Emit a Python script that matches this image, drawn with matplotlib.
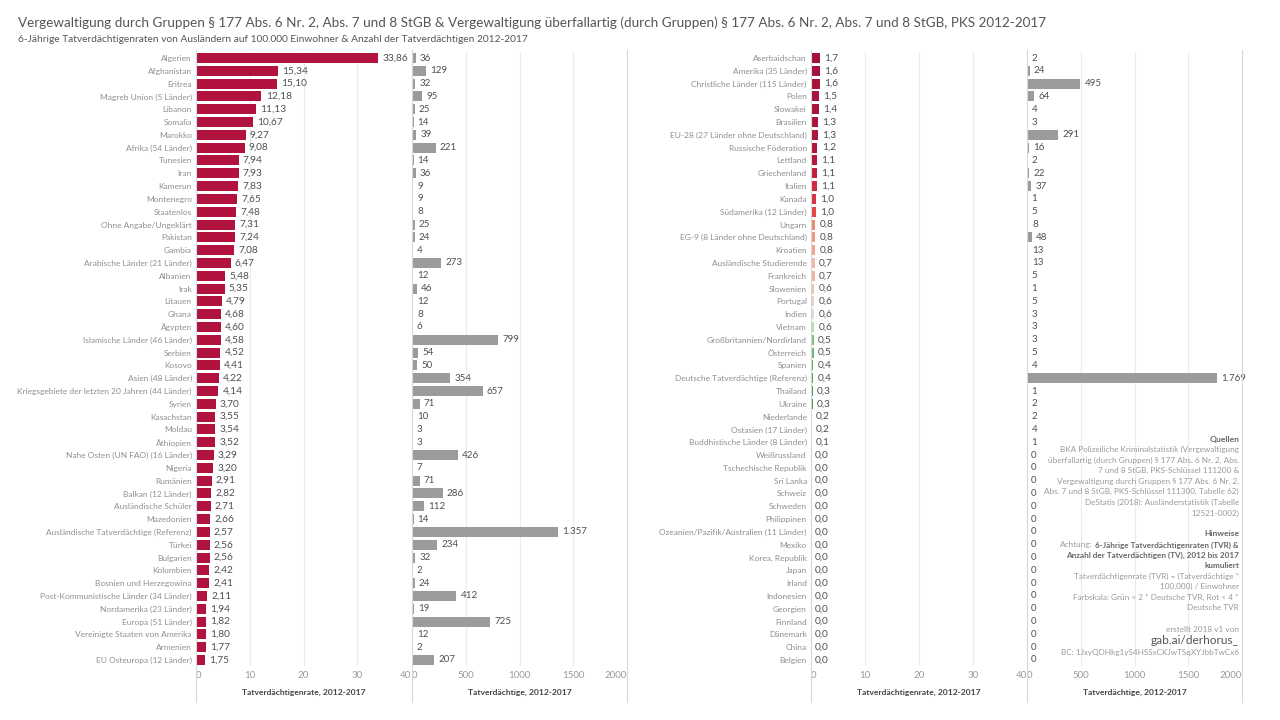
import matplotlib
matplotlib.use("Agg")
import matplotlib.pyplot as plt
from matplotlib.lines import Line2D

plt.rcParams['font.family'] = ['Lato', 'DejaVu Sans']

# left half
left_names = ['Algerien', 'Afghanistan', 'Eritrea', 'Magreb Union (5 Länder)', 'Libanon', 'Somalia',
              'Marokko', 'Afrika (54 Länder)', 'Tunesien', 'Iran', 'Kamerun', 'Montenegro', 'Staatenlos',
              'Ohne Angabe/Ungeklärt', 'Pakistan', 'Gambia', 'Arabische Länder (21 Länder)', 'Albanien',
              'Irak', 'Litauen', 'Ghana', 'Ägypten', 'Islamische Länder (46 Länder)', 'Serbien', 'Kosovo',
              'Asien (48 Länder)', 'Kriegsgebiete der letzten 20 Jahren (44 Länder)', 'Syrien',
              'Kasachstan', 'Moldau', 'Äthiopien', 'Nahe Osten (UN FAO) (16 Länder)', 'Nigeria',
              'Rumänien', 'Balkan (12 Länder)', 'Ausländische Schüler', 'Mazedonien',
              'Ausländische Tatverdächtige (Referenz)', 'Türkei', 'Bulgarien', 'Kolumbien',
              'Bosnien und Herzegowina', 'Post-Kommunistische Länder (34 Länder)', 'Nordamerika (23 Länder)',
              'Europa (51 Länder)', 'Vereinigte Staaten von Amerika', 'Armenien', 'EU Osteuropa (12 Länder)']
left_rate = [33.86, 15.34, 15.10, 12.18, 11.13, 10.67, 9.27, 9.08, 7.94, 7.93, 7.83, 7.65, 7.48,
             7.31, 7.24, 7.08, 6.47, 5.48, 5.35, 4.79, 4.68, 4.60, 4.58, 4.52, 4.41, 4.22, 4.14, 3.70,
             3.55, 3.54, 3.52, 3.29, 3.20, 2.91, 2.82, 2.71, 2.66, 2.57, 2.56, 2.56, 2.42, 2.41, 2.11,
             1.94, 1.82, 1.80, 1.77, 1.75]
left_count = [36, 129, 32, 95, 25, 14, 39, 221, 14, 36, 9, 9, 8, 25, 24, 4, 273, 12, 46, 12, 8, 6,
              799, 54, 50, 354, 657, 71, 10, 3, 3, 426, 7, 71, 286, 112, 14, 1357, 234, 32, 2, 24,
              412, 19, 725, 12, 2, 207]

# right half
right_names = ['Aserbaidschan', 'Amerika (35 Länder)', 'Christliche Länder (115 Länder)', 'Polen',
               'Slowakei', 'Brasilien', 'EU-28 (27 Länder ohne Deutschland)', 'Russische Föderation',
               'Lettland', 'Griechenland', 'Italien', 'Kanada', 'Südamerika (12 Länder)', 'Ungarn',
               'EG-9 (8 Länder ohne Deutschland)', 'Kroatien', 'Ausländische Studierende', 'Frankreich',
               'Slowenien', 'Portugal', 'Indien', 'Vietnam', 'Großbritannien/Nordirland', 'Österreich',
               'Spanien', 'Deutsche Tatverdächtige (Referenz)', 'Thailand', 'Ukraine', 'Niederlande',
               'Ostasien (17 Länder)', 'Buddhistische Länder (8 Länder)', 'Weißrussland',
               'Tschechische Republik', 'Sri Lanka', 'Schweiz', 'Schweden', 'Philippinen',
               'Ozeanien/Pazifik/Australien (11 Länder)', 'Mexiko', 'Korea, Republik', 'Japan', 'Irland',
               'Indonesien', 'Georgien', 'Finnland', 'Dänemark', 'China', 'Belgien']
right_rate = [1.7, 1.6, 1.6, 1.5, 1.4, 1.3, 1.3, 1.2, 1.1, 1.1, 1.1, 1.0, 1.0, 0.8, 0.8, 0.8, 0.7,
              0.7, 0.6, 0.6, 0.6, 0.6, 0.5, 0.5, 0.4, 0.4, 0.3, 0.3, 0.2, 0.2, 0.1] + [0.0] * 17
right_count = [2, 24, 495, 64, 4, 3, 291, 16, 2, 22, 37, 1, 5, 8, 48, 13, 13, 5, 1, 5, 3, 3, 3, 5,
               4, 1769, 1, 2, 2, 4, 1] + [0] * 17

# colour scale of the right rate bars (red -> green)
right_colors = ['#a5103a', '#a6103a', '#a8113a', '#aa123b', '#ab133c', '#ad143c', '#ad143c', '#b0163d',
                '#b5183f', '#c01f40', '#cc2a42', '#d63444', '#e04848', '#ec8a74', '#ee9880', '#efa48c',
                '#f2b8a6', '#f2b0a0', '#f2c0ac', '#ead0c8', '#dde2d0', '#b8dcb0', '#78c278', '#6cba6e',
                '#5aae5e', '#52a858', '#3c9a4a', '#3c9a4a', '#2e8c3e', '#e0e0e0', '#e0e0e0'] + ['#e0e0e0'] * 17

RED = '#b1123e'
GREY = '#9b9b9b'
LABEL = '#8f8f8f'
VALUE = '#505050'
W, H = 1280, 720


def de_num(v, dec):
    return f"{v:.{dec}f}".replace('.', ',')


def de_int(v):
    return f"{v:,}".replace(',', '.')


fig = plt.figure(figsize=(12.8, 7.2), dpi=100)
fig.patch.set_facecolor('white')


def px_axes(x0, x1, y0=51.6, y1=666.4):
    return fig.add_axes([x0 / W, 1 - y1 / H, (x1 - x0) / W, (y1 - y0) / H])


def style_axes(ax, xmax, ticks, names=None):
    ax.set_xlim(0, xmax)
    ax.set_ylim(47.5, -0.5)
    for s in ax.spines.values():
        s.set_visible(False)
    ax.set_xticks(ticks)
    ax.set_xticklabels([str(t) for t in ticks], fontsize=7, color='#9a9a9a')
    labs = ax.get_xticklabels()
    labs[0].set_ha('left')
    labs[-1].set_ha('right')
    ax.tick_params(axis='x', length=0, pad=3)
    for t in ticks[1:-1]:
        ax.axvline(t, color='#ececec', lw=0.8, zorder=0)
    ax.set_yticks(range(48))
    if names is not None:
        ax.set_yticklabels(names, fontsize=6.0, color=LABEL)
        ax.tick_params(axis='y', length=0, pad=3)
    else:
        ax.set_yticklabels([])
        ax.tick_params(axis='y', length=0)


rows = list(range(48))
panels = [
    (196, 411, 412, 627, left_names, left_rate, left_count, [RED] * 48, 2),
    (811, 1027, 1027, 1242, right_names, right_rate, right_count, right_colors, 1),
]

for rx0, rx1, cx0, cx1, names, rate, count, colors, dec in panels:
    ax_r = px_axes(rx0, rx1)
    style_axes(ax_r, 40, [0, 10, 20, 30, 40], names)
    bars = ax_r.barh(rows, rate, height=0.78, color=colors, zorder=2)
    ax_r.bar_label(bars, labels=[de_num(v, dec) for v in rate], padding=3,
                   fontsize=7.3, color=VALUE)

    ax_c = px_axes(cx0, cx1)
    style_axes(ax_c, 2000, [0, 500, 1000, 1500, 2000])
    bars = ax_c.barh(rows, count, height=0.78, color=GREY, zorder=2)
    ax_c.bar_label(bars, labels=[de_int(v) for v in count], padding=3,
                   fontsize=7, color=VALUE)

    fig.text((rx0 + rx1) / 2 / W, 1 - 692 / H, 'Tatverdächtigenrate, 2012-2017',
             ha='center', va='center', fontsize=6.1, color='#444444', fontweight='bold')
    fig.text((cx0 + cx1) / 2 / W, 1 - 692 / H, 'Tatverdächtige, 2012-2017',
             ha='center', va='center', fontsize=6.1, color='#444444', fontweight='bold')

    # separators
    for xv in (rx0, cx0, cx1):
        fig.add_artist(Line2D([xv / W, xv / W], [1 - 50 / H, 1 - 702 / H],
                              color='#d8d8d8', lw=0.8))

# title
fig.text(18 / W, 1 - 23 / H,
         'Vergewaltigung durch Gruppen § 177 Abs. 6 Nr. 2, Abs. 7 und 8 StGB & Vergewaltigung '
         'überfallartig (durch Gruppen) § 177 Abs. 6 Nr. 2, Abs. 7 und 8 StGB, PKS 2012-2017',
         ha='left', va='center', fontsize=9.7, color='#555555')
fig.text(18 / W, 1 - 39 / H,
         '6-Jährige Tatverdächtigenraten von Ausländern auf 100.000 Einwohner & Anzahl der '
         'Tatverdächtigen 2012-2017',
         ha='left', va='center', fontsize=7.3, color='#555555')

# notes block
xr = 1239 / W
NFS = 5.85
notes = [
    (439, 'Quellen', 'bold', '#666666', 6.1),
    (449, 'BKA Polizeiliche Kriminalstatistik (Vergewaltigung', 'normal', '#9a9a9a', NFS),
    (460, 'überfallartig (durch Gruppen) § 177 Abs. 6 Nr. 2, Abs.', 'normal', '#9a9a9a', NFS),
    (470, '7 und 8 StGB, PKS-Schlüssel 111200 &', 'normal', '#9a9a9a', NFS),
    (481, 'Vergewaltigung durch Gruppen § 177 Abs. 6 Nr. 2,', 'normal', '#9a9a9a', NFS),
    (491, 'Abs. 7 und 8 StGB, PKS-Schlüssel 111300, Tabelle 62)', 'normal', '#9a9a9a', NFS),
    (502, 'DeStatis (2018): Ausländerstatistik (Tabelle', 'normal', '#9a9a9a', NFS),
    (513, '12521-0002)', 'normal', '#9a9a9a', NFS),
    (534, 'Hinweise', 'bold', '#666666', 6.1),
    (555, 'Anzahl der Tatverdächtigen (TV), 2012 bis 2017', 'bold', '#666666', NFS),
    (565, 'kumuliert', 'bold', '#666666', NFS),
    (576, 'Tatverdächtigenrate (TVR) = (Tatverdächtige *', 'normal', '#9a9a9a', NFS),
    (586, '100.000) / Einwohner', 'normal', '#9a9a9a', NFS),
    (597, 'Farbskala: Grün < 2 * Deutsche TVR, Rot < 4 *', 'normal', '#9a9a9a', NFS),
    (607, 'Deutsche TVR', 'normal', '#9a9a9a', NFS),
    (629, 'erstellt 2018 v1 von', 'normal', '#9a9a9a', NFS),
    (641, 'gab.ai/derhorus_', 'normal', '#555555', 8.6),
    (652, 'BC: 1JxyQDHkg1yS4HSSxCKJwTSqXYJbbTwCx6', 'normal', '#9a9a9a', NFS),
]
for y, txt, wt, col, fs in notes:
    fig.text(xr, 1 - y / H, txt, ha='right', va='center', fontsize=fs, fontweight=wt, color=col)

# mixed line: "Achtung:" regular + bold remainder
bold_part = fig.text(xr, 1 - 545 / H, '6-Jährige Tatverdächtigenraten (TVR) &', ha='right',
                     va='center', fontsize=NFS, fontweight='bold', color='#666666')
renderer = fig.canvas.get_renderer()
bb = bold_part.get_window_extent(renderer)
fig.text((bb.x0 - 3) / W, 1 - 545 / H, 'Achtung:', ha='right', va='center', fontsize=NFS,
         color='#9a9a9a')

fig.savefig('out.png', dpi=100, facecolor='white')
